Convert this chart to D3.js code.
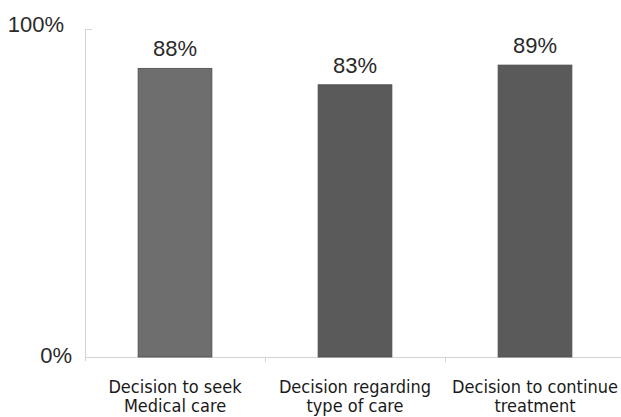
<!DOCTYPE html>
<html><head><meta charset="utf-8">
<script src="https://cdn.jsdelivr.net/npm/d3@7"></script>
<style>body{margin:0;background:#fff}svg{display:block}</style>
</head><body><svg id="c" width="621" height="417"></svg>
<script>
const categories = [["Decision to seek","Medical care"],["Decision regarding","type of care"],["Decision to continue","treatment"]];
const values = [88, 83, 89];
const barColors = ["#6e6e6e", "#5a5a5a", "#5a5a5a"];
const yTickLabels = ["0%", "100%"];

const svg = d3.select("#c");
const m = {l:85, r:625, t:29, b:357};
const x = d3.scaleBand().domain(d3.range(categories.length)).range([m.l, m.r]).paddingInner(0.59).paddingOuter(0.295);
const y = d3.scaleLinear().domain([0,100]).range([m.b, m.t]);
const sans = "Liberation Sans, Arial, sans-serif";

// axis lines
svg.append("line").attr("x1",m.l+0.5).attr("x2",m.l+0.5).attr("y1",m.t).attr("y2",m.b+4).attr("stroke","#d4d4d4");
svg.append("line").attr("x1",m.l).attr("x2",m.l+7).attr("y1",m.t+0.5).attr("y2",m.t+0.5).attr("stroke","#d4d4d4");
svg.append("line").attr("x1",m.l).attr("x2",621).attr("y1",m.b+0.5).attr("y2",m.b+0.5).attr("stroke","#d4d4d4");
const step = x.step();
[1,2].forEach(i=>{
  const xx = m.l + step*i;
  svg.append("line").attr("x1",xx+0.5).attr("x2",xx+0.5).attr("y1",m.b).attr("y2",m.b+5).attr("stroke","#d4d4d4");
});

// y tick labels
svg.append("text").attr("x",64).attr("y",y(100)+3).attr("text-anchor","end")
  .attr("font-family",sans).attr("font-size",22).attr("fill","#2a2a2a").text(yTickLabels[1]);
svg.append("text").attr("x",72).attr("y",y(0)+6).attr("text-anchor","end")
  .attr("font-family",sans).attr("font-size",22).attr("fill","#2a2a2a").text(yTickLabels[0]);

// bars
svg.selectAll("rect.bar").data(values).join("rect").attr("class","bar")
  .attr("x",(d,i)=>x(i)).attr("width",x.bandwidth())
  .attr("y",d=>y(d)).attr("height",d=>y(0)-y(d))
  .attr("fill",(d,i)=>barColors[i]).attr("stroke","#4a4a4a").attr("stroke-width",0.8);

// value labels
svg.selectAll("text.val").data(values).join("text").attr("class","val")
  .attr("x",(d,i)=>x(i)+x.bandwidth()/2).attr("y",d=>y(d)-12)
  .attr("text-anchor","middle").attr("font-family",sans)
  .attr("font-size",22).attr("fill","#2a2a2a").text(d=>d+"%");

// category labels
categories.forEach((lines,i)=>{
  const cx = x(i)+x.bandwidth()/2;
  const t = svg.append("text").attr("x",cx).attr("text-anchor","middle")
    .attr("font-family","DejaVu Sans").attr("font-stretch","condensed").attr("font-size",18).attr("fill","#1a1a1a");
  lines.forEach((s,j)=>t.append("tspan").attr("x",cx).attr("y",393+j*19).text(s));
});
</script></body></html>
